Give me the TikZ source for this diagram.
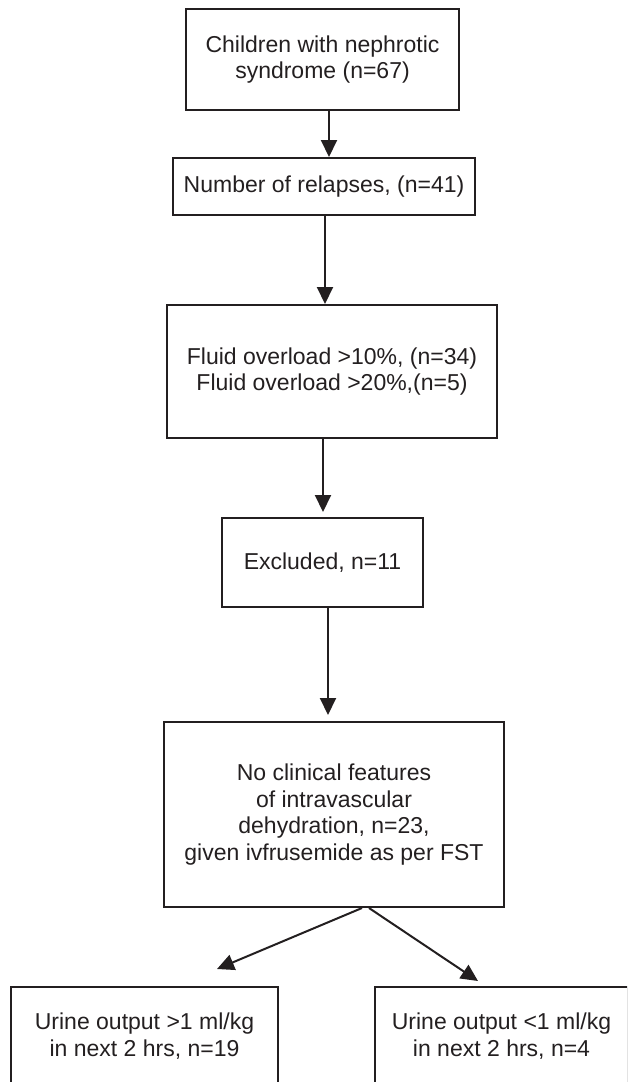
\documentclass[tikz,border=0pt]{standalone}
\usepackage{fontspec}
\setmainfont{Liberation Sans}
\usetikzlibrary{positioning, calc, arrows.meta}
\definecolor{ink}{RGB}{35,31,32}

\begin{document}
\begin{tikzpicture}[x=1pt, y=-1pt,
        box/.style={draw=ink, line width=2pt, text=ink, align=center, inner sep=0pt,
            font=\fontsize{23}{26.5}\selectfont},
        arr/.style={draw=ink, line width=2pt, -{Triangle[length=17pt, width=16pt]}}]
        \useasboundingbox (0,0) rectangle (627,1082);
        \clip (0,0) rectangle (627,1082);

        % boxes
        \node[box, minimum width=273pt, minimum height=101pt] (children) at (322.5,59.5) {Children with nephrotic\\syndrome (n=67)};
        \node[box, minimum width=302pt, minimum height=57pt] (relapses) at (324,186.5) {Number of relapses, (n=41)};
        \node[box, minimum width=330pt, minimum height=133pt] (overload) at (332,371.5) {Fluid overload >10\%, (n=34)\\Fluid overload >20\%,(n=5)};
        \node[box, minimum width=201pt, minimum height=89pt] (excluded) at (322.5,562.5) {Excluded, n=11};
        \node[box, minimum width=340pt, minimum height=185pt] (nofeat) at (334,814.5) {No clinical features\\of intravascular\\dehydration, n=23,\\given ivfrusemide as per FST};
        \node[box, minimum width=267pt, minimum height=98pt] (above1) at (144.5,1036) {Urine output >1 ml/kg\\in next 2 hrs, n=19};
        \node[box, minimum width=253pt, minimum height=98pt] (below1) at (501.5,1036) {Urine output <1 ml/kg\\in next 2 hrs, n=4};

        % free ends of the split arrows
        \coordinate (toleft) at (217,969);
        \coordinate (toright) at (478,981);

        % arrows
        \draw[arr] ([xshift=6.5pt]children.south) -- ([xshift=6.5pt]children.south |- relapses.north);
        \draw[arr] ([xshift=1pt]relapses.south) -- ([xshift=1pt]relapses.south |- overload.north);
        \draw[arr, shorten >=5pt] ([xshift=-9pt]overload.south) -- ([xshift=-9pt]overload.south |- excluded.north);
        \draw[arr, shorten >=6pt] ([xshift=5.5pt]excluded.south) -- ([xshift=5.5pt]excluded.south |- nofeat.north);
        \draw[arr] ([xshift=28pt]nofeat.south) -- (toleft);
        \draw[arr] ([xshift=35pt]nofeat.south) -- (toright);
\end{tikzpicture}
\end{document}
